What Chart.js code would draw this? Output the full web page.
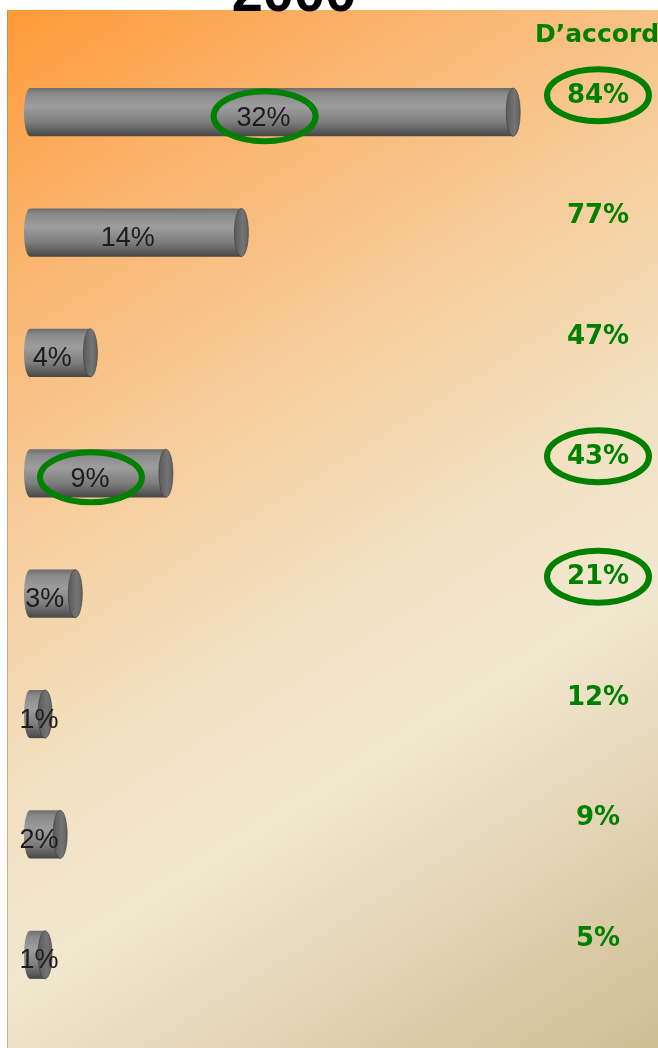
<!DOCTYPE html>
<html>
<head>
<meta charset="utf-8">
<script src="https://cdn.jsdelivr.net/npm/chart.js@4.4.0/dist/chart.umd.min.js"></script>
<style>
  html, body { margin: 0; padding: 0; background: #fff; }
  #wrap { width: 658px; height: 1048px; position: relative; }
</style>
</head>
<body>
<div id="wrap"><canvas id="chart"></canvas></div>
<script>
// Données
var titre = "2000";
var categories = ["Item 1", "Item 2", "Item 3", "Item 4", "Item 5", "Item 6", "Item 7", "Item 8"];
var valeurs2000 = [32, 14, 4, 9, 3, 1, 2, 1];
var enteteAccord = "D\u2019accord";
var valeursAccord = [84, 77, 47, 43, 21, 12, 9, 5];
var barreEntouree = [true, false, false, true, false, false, false, false];
var accordEntoure = [true, false, false, true, true, false, false, false];

var VERT = "#008000";

// Dégradé gris du cylindre
function gradientCylindre(ctx, y, h) {
    var g = ctx.createLinearGradient(0, y - h / 2, 0, y + h / 2);
    g.addColorStop(0, "#6e6e6e");
    g.addColorStop(0.12, "#8a8a8a");
    g.addColorStop(0.38, "#9d9d9d");
    g.addColorStop(0.7, "#7f7f7f");
    g.addColorStop(1, "#474747");
    return g;
}

// Fond du panneau + titre
var fondPlugin = {
    id: "fond",
    beforeDraw: function (chart) {
        var ctx = chart.ctx;
        var w = chart.width, h = chart.height;
        ctx.save();
        ctx.fillStyle = "#ffffff";
        ctx.fillRect(0, 0, w, h);
        var g = ctx.createLinearGradient(7, 10, w, h);
        g.addColorStop(0, "#ff9a36");
        g.addColorStop(0.15, "#fbb066");
        g.addColorStop(0.35, "#f7cb97");
        g.addColorStop(0.55, "#f2e1c2");
        g.addColorStop(0.68, "#f1e7cf");
        g.addColorStop(1, "#cfbd93");
        ctx.fillStyle = g;
        ctx.fillRect(7, 10, w - 7, h - 10);
        ctx.strokeStyle = "rgba(150,130,100,0.5)";
        ctx.lineWidth = 1;
        ctx.beginPath();
        ctx.moveTo(7.5, 10);
        ctx.lineTo(7.5, h);
        ctx.stroke();
        // titre coupé en haut
        ctx.fillStyle = "#000";
        ctx.font = "bold 56px 'Liberation Sans', Arial, sans-serif";
        ctx.textAlign = "center";
        ctx.textBaseline = "alphabetic";
        ctx.fillText(titre, 294, 11);
        ctx.restore();
    }
};

function ellipseVerte(ctx, cx, cy, rx, ry) {
    ctx.save();
    ctx.strokeStyle = VERT;
    ctx.lineWidth = 6;
    ctx.beginPath();
    ctx.ellipse(cx, cy, rx, ry, 0, 0, Math.PI * 2);
    ctx.stroke();
    ctx.restore();
}

// Bouts des cylindres, étiquettes et colonne "D'accord"
var cylindrePlugin = {
    id: "cylindre",
    afterDatasetsDraw: function (chart) {
        var ctx = chart.ctx;
        var meta = chart.getDatasetMeta(0);
        meta.data.forEach(function (bar, i) {
            var p = bar.getProps(["x", "y", "base", "height"], true);
            var h = p.height;
            ctx.save();
            // bout gauche arrondi
            ctx.fillStyle = gradientCylindre(ctx, p.y, h);
            ctx.beginPath();
            ctx.ellipse(p.base, p.y, 6, h / 2, 0, Math.PI / 2, Math.PI * 1.5);
            ctx.closePath();
            ctx.fill();
            // face de droite
            var g = ctx.createLinearGradient(p.x - 7, 0, p.x + 7, 0);
            g.addColorStop(0, "#5a5a5a");
            g.addColorStop(0.6, "#747474");
            g.addColorStop(1, "#616161");
            ctx.fillStyle = g;
            ctx.beginPath();
            ctx.ellipse(p.x, p.y, 7, h / 2, 0, 0, Math.PI * 2);
            ctx.fill();
            ctx.strokeStyle = "rgba(60,60,60,0.6)";
            ctx.lineWidth = 1;
            ctx.stroke();

            // étiquette dans la barre
            var lx = Math.max((p.base + p.x) / 2 - 8, p.base + 9);
            var ly = p.y + 6;
            ctx.fillStyle = "#1c1c1c";
            ctx.font = "27px 'Liberation Sans', Arial, sans-serif";
            ctx.textAlign = "center";
            ctx.textBaseline = "middle";
            ctx.fillText(valeurs2000[i] + "%", lx, ly);
            if (barreEntouree[i]) ellipseVerte(ctx, lx + 1, ly - 2, 51, 25);

            // colonne D'accord
            var ay = p.y - 16;
            ctx.fillStyle = VERT;
            ctx.font = "bold 26px 'DejaVu Sans', Verdana, sans-serif";
            ctx.fillText(valeursAccord[i] + "%", 598, ay);
            if (accordEntoure[i]) ellipseVerte(ctx, 598, ay - 1, 51, 26);
            ctx.restore();
        });
        ctx.save();
        ctx.fillStyle = VERT;
        ctx.font = "bold 25px 'DejaVu Sans', Verdana, sans-serif";
        ctx.textAlign = "left";
        ctx.textBaseline = "middle";
        ctx.fillText(enteteAccord, 535, 35);
        ctx.restore();
    }
};

function setupChart() {
    var el = document.getElementById("chart");
    new Chart(el, {
        type: "bar",
        data: {
            labels: categories,
            datasets: [{
                label: titre,
                data: valeurs2000,
                backgroundColor: function (c) {
                    var chart = c.chart;
                    if (!chart.chartArea || !chart.scales.y) return "#888";
                    var y = chart.scales.y.getPixelForValue(c.dataIndex);
                    return gradientCylindre(chart.ctx, y, 48);
                },
                borderWidth: 0,
                categoryPercentage: 1,
                barPercentage: 0.4
            }]
        },
        options: {
            indexAxis: "y",
            responsive: false,
            animation: false,
            layout: { padding: { left: 30, right: 24, top: 52, bottom: 33 } },
            scales: {
                x: { display: false, min: 0, max: 40 },
                y: { display: false }
            },
            plugins: {
                legend: { display: false },
                tooltip: { enabled: false },
                title: { display: false }
            }
        },
        plugins: [fondPlugin, cylindrePlugin]
    });
}

var c = document.getElementById("chart");
c.width = 658;
c.height = 1048;
c.style.width = "658px";
c.style.height = "1048px";
window.addEventListener("load", setupChart);
</script>
</body>
</html>
